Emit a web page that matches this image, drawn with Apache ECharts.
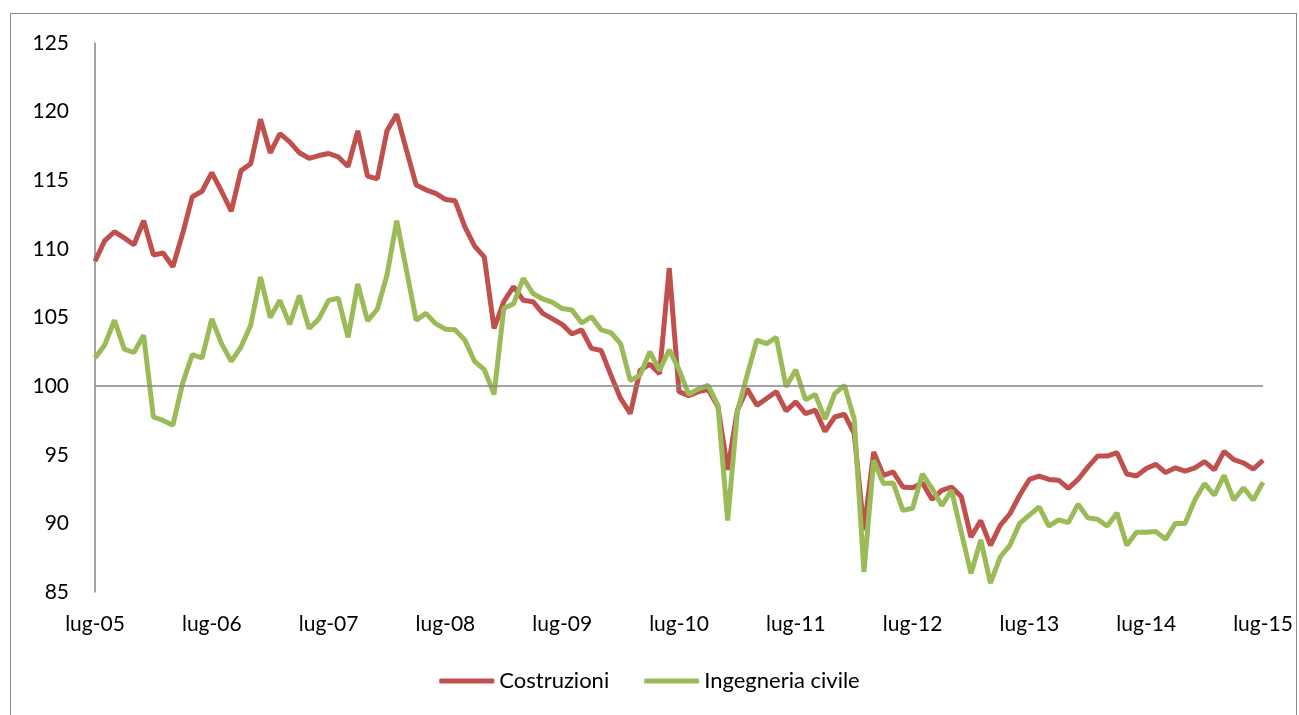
<!DOCTYPE html>
<html>
<head>
<meta charset="utf-8">
<script src="https://cdn.jsdelivr.net/npm/echarts@6/dist/echarts.min.js"></script>
<style>
  body { margin: 0; background: #fff; }
  #frame { position: absolute; left: 10px; top: 13px; width: 1285px; height: 720px; border: 1.5px solid #8a8a8a; }
  #chart { position: absolute; left: 0; top: 0; width: 1299px; height: 715px; }
</style>
</head>
<body>
<div id="frame"></div>
<div id="chart"></div>
<script>
// mesi da lug-05 a lug-15
const monthNames = ['gen', 'feb', 'mar', 'apr', 'mag', 'giu', 'lug', 'ago', 'set', 'ott', 'nov', 'dic']
const categories = []
for (let k = 0; k <= 120; k++) {
  const m = (6 + k) % 12
  const y = 5 + Math.floor((6 + k) / 12)
  categories.push(monthNames[m] + '-' + String(y).padStart(2, '0'))
}

const costruzioni = [
  109.1, 110.6, 111.25, 110.8, 110.3, 112.05, 109.55, 109.7, 108.7, 111.1,
  113.8, 114.2, 115.55, 114.2, 112.75, 115.7, 116.2, 119.45, 117.0, 118.4,
  117.8, 117.0, 116.6, 116.8, 116.95, 116.7, 116.0, 118.6, 115.3, 115.1,
  118.6, 119.8, 117.2, 114.65, 114.3, 114.05, 113.6, 113.5, 111.6, 110.2,
  109.4, 104.2, 106.15, 107.25, 106.25, 106.15, 105.3, 104.9, 104.5, 103.8,
  104.1, 102.75, 102.6, 100.8, 99.1, 98.0, 101.15, 101.6, 100.9, 108.6,
  99.6, 99.3, 99.6, 99.75, 98.5, 93.9, 98.25, 99.8, 98.6, 99.1,
  99.6, 98.2, 98.85, 98.0, 98.25, 96.7, 97.75, 97.95, 96.55, 89.5,
  95.2, 93.5, 93.75, 92.65, 92.6, 92.95, 91.75, 92.4, 92.65, 91.95,
  89.0, 90.2, 88.4, 89.85, 90.7, 92.05, 93.2, 93.45, 93.2, 93.15,
  92.55, 93.2, 94.1, 94.9, 94.9, 95.15, 93.6, 93.45, 94.0, 94.3,
  93.7, 94.05, 93.8, 94.05, 94.5, 93.9, 95.25, 94.65, 94.4, 93.95,
  94.6
]

const ingegneriaCivile = [
  102.05, 103.0, 104.8, 102.7, 102.45, 103.7, 97.75, 97.5, 97.15, 100.2,
  102.3, 102.05, 104.9, 103.1, 101.8, 102.85, 104.45, 107.95, 105.0, 106.25,
  104.5, 106.6, 104.2, 104.9, 106.25, 106.4, 103.55, 107.45, 104.75, 105.6,
  108.1, 112.05, 108.45, 104.8, 105.3, 104.55, 104.15, 104.1, 103.35, 101.8,
  101.2, 99.4, 105.65, 106.0, 107.85, 106.75, 106.35, 106.1, 105.65, 105.55,
  104.6, 105.05, 104.1, 103.9, 103.1, 100.4, 100.8, 102.5, 101.15, 102.65,
  101.2, 99.4, 99.8, 100.05, 98.6, 90.2, 98.15, 100.8, 103.35, 103.1,
  103.55, 99.95, 101.2, 99.0, 99.4, 97.6, 99.45, 100.05, 97.6, 86.45,
  94.6, 92.9, 92.95, 90.95, 91.1, 93.6, 92.55, 91.3, 92.4, 89.35,
  86.35, 88.8, 85.65, 87.55, 88.4, 90.0, 90.6, 91.2, 89.8, 90.25,
  90.05, 91.4, 90.4, 90.3, 89.8, 90.75, 88.4, 89.35, 89.35, 89.4,
  88.85, 90.0, 90.0, 91.7, 92.9, 92.05, 93.5, 91.7, 92.6, 91.7,
  93.0
]

const font = 'Lato'
const chart = echarts.init(document.getElementById('chart'))
chart.setOption({
  animation: false,
  textStyle: { fontFamily: font },
  grid: { left: 95, right: 36, top: 43, bottom: 123 },
  legend: {
    bottom: 18,
    left: 'center',
    itemWidth: 55,
    itemHeight: 5,
    itemGap: 35,
    icon: 'roundRect',
    textStyle: { fontFamily: font, fontSize: 22, color: '#000' },
    data: ['Costruzioni', 'Ingegneria civile']
  },
  xAxis: {
    type: 'category',
    boundaryGap: false,
    data: categories,
    axisLine: { show: false },
    axisTick: { show: false },
    axisLabel: { interval: 11, margin: 22, fontSize: 21, color: '#000', fontFamily: font }
  },
  yAxis: {
    type: 'value',
    min: 85,
    max: 125,
    interval: 5,
    splitLine: { show: false },
    axisLine: { show: true, lineStyle: { color: '#868686', width: 1.5 } },
    axisTick: { show: false },
    axisLabel: { margin: 26, fontSize: 21, color: '#000', fontFamily: font }
  },
  series: [{
    name: 'Costruzioni',
    type: 'line',
    data: costruzioni,
    showSymbol: false,
    lineStyle: { color: '#C0504D', width: 5 },
    itemStyle: { color: '#C0504D' },
    markLine: {
      silent: true,
      symbol: 'none',
      label: { show: false },
      lineStyle: { color: '#868686', width: 1.5, type: 'solid' },
      data: [{ yAxis: 100 }]
    },
    z: 2
  }, {
    name: 'Ingegneria civile',
    type: 'line',
    data: ingegneriaCivile,
    showSymbol: false,
    lineStyle: { color: '#9BBB59', width: 5 },
    itemStyle: { color: '#9BBB59' },
    z: 3
  }]
})
</script>
</body>
</html>
